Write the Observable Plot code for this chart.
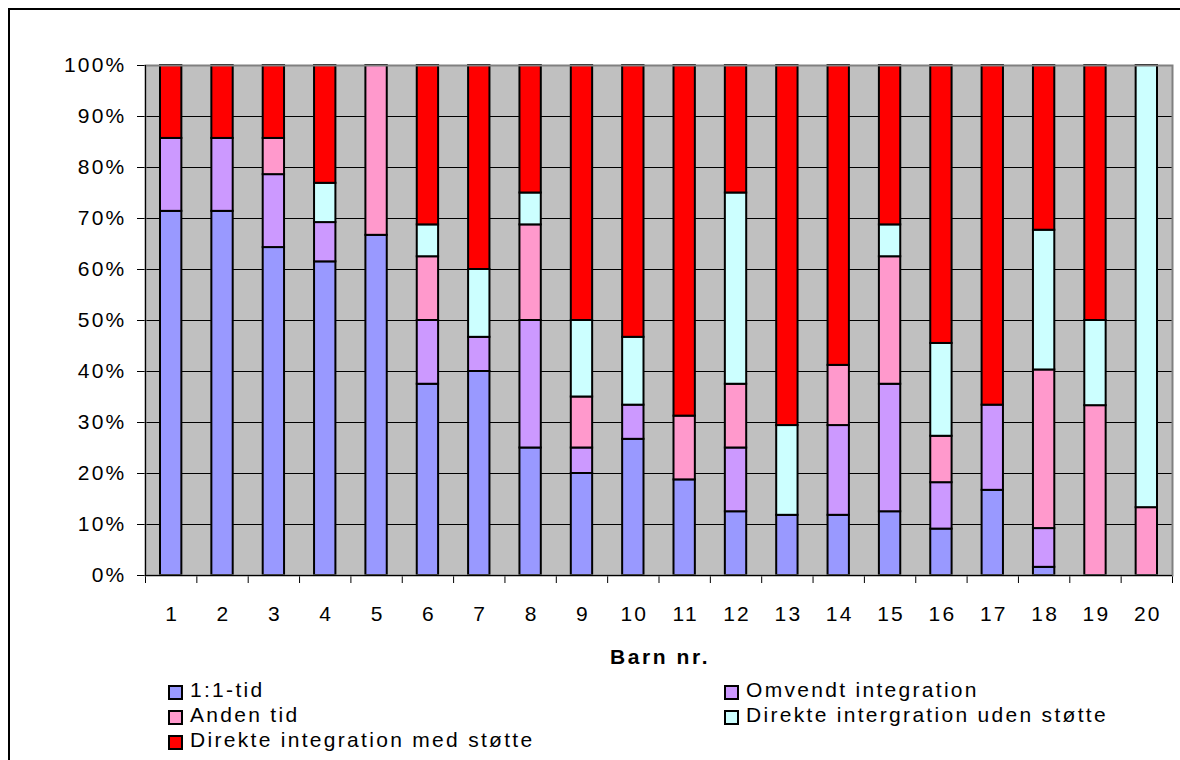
<!DOCTYPE html>
<html>
<head>
<meta charset="utf-8">
<script src="https://cdn.jsdelivr.net/npm/d3@7"></script>
<script src="https://cdn.jsdelivr.net/npm/@observablehq/plot@0.6"></script>
<style>
  html, body { margin: 0; padding: 0; background: #fff; }
  #wrap { position: relative; width: 1180px; height: 760px; overflow: hidden; font-family: "Liberation Sans", Arial, sans-serif; }
  #frame { position: absolute; left: 8px; top: 8px; width: 1300px; height: 900px; border: 2px solid #000; box-sizing: border-box; }
  #chart { position: absolute; left: 0; top: 0; }
  .lbl { position: absolute; font-size: 21px; line-height: 25px; letter-spacing: 2.3px; color: #000; white-space: nowrap; }
  .sw { position: absolute; width: 11px; height: 11px; border: 2px solid #000; }
  #xtitle { position: absolute; left: 560px; width: 200px; text-align: center; top: 644px; font-size: 21px; line-height: 25px; font-weight: bold; letter-spacing: 2.6px; }
</style>
</head>
<body>
<div id="wrap">
  <div id="frame"></div>
  <div id="chart"></div>
  <div id="xtitle">Barn nr.</div>
  <div id="legend"></div>
</div>
<script>
// ---- data ----
const barn = [1,2,3,4,5,6,7,8,9,10,11,12,13,14,15,16,17,18,19,20];
const kategorier = ["1:1-tid", "Omvendt integration", "Anden tid", "Direkte intergration uden støtte", "Direkte integration med støtte"];
const farver = ["#9999FF", "#CC99FF", "#FF99CC", "#CCFFFF", "#FF0000"];
const tid11    = [71.4,71.4,64.3,61.5,66.7,37.5,40.0,25.0,20.0,26.7,18.75,12.5,11.8,11.8,12.5, 9.1,16.7, 1.6, 0, 0];
const omvendt  = [14.3,14.3,14.3, 7.7, 0,  12.5, 6.7,25.0, 5.0, 6.7, 0,   12.5, 0,  17.6,25.0, 9.1,16.7, 7.6, 0, 0];
const anden    = [ 0,   0,   7.1, 0,  33.3,12.5, 0,  18.75,10.0,0,  12.5, 12.5, 0,  11.8,25.0, 9.1, 0,  31.1,33.3,13.3];
const udenSt   = [ 0,   0,   0,   7.7, 0,   6.25,13.3,6.25,15.0,13.3,0,   37.5,17.6, 0,   6.25,18.2,0,  27.4,16.7,86.7];
const medSt    = [14.3,14.3,14.3,23.1, 0,  31.25,40.0,25.0,50.0,53.3,68.75,25.0,70.6,58.8,31.25,54.5,66.6,32.3,50.0,0];
const yTicks = [0,10,20,30,40,50,60,70,80,90,100];
const gridTicks = [10,20,30,40,50,60,70,80,90];

const serier = [tid11, omvendt, anden, udenSt, medSt];
const rows = [];
serier.forEach((s, k) => s.forEach((v, i) => { if (v > 0) rows.push({barn: barn[i], kategori: kategorier[k], value: v}); }));
const boundaries = barn.map(b => b - 0.5).concat([barn[barn.length - 1] + 0.5]);

const chart = Plot.plot({
  width: 1180,
  height: 640,
  marginLeft: 145,
  marginRight: 8,
  marginTop: 65,
  marginBottom: 65,
  style: {fontFamily: "'Liberation Sans', Arial, sans-serif", fontSize: "21px", letterSpacing: "2.2px", background: "transparent", color: "#000"},
  x: {domain: [0.5, 20.5], ticks: boundaries, tickSize: 8, tickFormat: () => "", label: null},
  y: {domain: [0, 100], ticks: yTicks, tickSize: 8, tickPadding: 11, tickFormat: d => d + "%", label: null},
  color: {domain: kategorier, range: farver},
  marks: [
    Plot.frame({fill: "#C0C0C0", stroke: null}),
    Plot.ruleY(gridTicks, {stroke: "#000", strokeWidth: 1}),
    Plot.rectY(rows, Plot.stackY({
      x: "barn",
      x1: d => d.barn - 0.5,
      x2: d => d.barn + 0.5,
      y: "value",
      fill: "kategori",
      order: kategorier,
      stroke: "#000",
      strokeWidth: 2,
      insetLeft: 15,
      insetRight: 15
    })),
    Plot.frame({stroke: "#808080", strokeWidth: 2}),
    Plot.ruleX([0.5], {stroke: "#000", strokeWidth: 1}),
    Plot.ruleY([0], {stroke: "#000", strokeWidth: 1}),
    Plot.text(barn, {x: d => d, frameAnchor: "bottom", lineAnchor: "top", dy: 31, dx: 1, text: d => String(d), fontSize: 21})
  ]
});
document.getElementById("chart").appendChild(chart);

// ---- legend ----
const legend = document.getElementById("legend");
const legendPos = [
  {col: 0, row: 0}, {col: 1, row: 0}, {col: 0, row: 1}, {col: 1, row: 1}, {col: 0, row: 2}
];
const colX = [168, 724];
kategorier.forEach((k, i) => {
  const p = legendPos[i];
  const top = 677 + p.row * 25;
  const sw = document.createElement("div");
  sw.className = "sw";
  sw.style.left = colX[p.col] + "px";
  sw.style.top = (top + 8) + "px";
  sw.style.background = farver[i];
  legend.appendChild(sw);
  const t = document.createElement("div");
  t.className = "lbl";
  t.style.left = (colX[p.col] + 22) + "px";
  t.style.top = top + "px";
  t.textContent = k;
  legend.appendChild(t);
});
</script>
</body>
</html>
